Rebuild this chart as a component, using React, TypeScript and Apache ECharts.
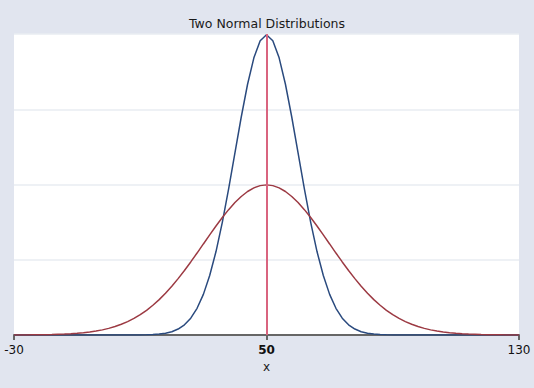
import React, { useEffect, useRef } from "react";
import * as echarts from "echarts";

const chartTitle = "Two Normal Distributions";
const xAxisName = "x";
const xTickValues = [-30, 50, 130];
const referenceX = 50;

const xValues = [
  -30, -28, -26, -24, -22, -20, -18, -16, -14, -12, -10, -8, -6, -4, -2, 0, 2, 4, 6, 8,
  10, 12, 14, 16, 18, 20, 22, 24, 26, 28, 30, 32, 34, 36, 38, 40, 42, 44, 46, 48,
  50, 52, 54, 56, 58, 60, 62, 64, 66, 68, 70, 72, 74, 76, 78, 80, 82, 84, 86, 88,
  90, 92, 94, 96, 98, 100, 102, 104, 106, 108, 110, 112, 114, 116, 118, 120, 122, 124, 126, 128, 130,
];

// narrow distribution (blue)
const blueDensity = [
  0, 0, 0, 0, 0, 0, 0, 0, 0, 0,
  0, 0, 0, 0, 0, 0, 0, 0, 0, 0,
  0.00001, 0.00003, 0.00006, 0.00012, 0.00024, 0.00044, 0.00079, 0.00136, 0.00224, 0.00355,
  0.0054, 0.0079, 0.01109, 0.01497, 0.01942, 0.0242, 0.02897, 0.03332, 0.03683, 0.0391,
  0.03989,
  0.0391, 0.03683, 0.03332, 0.02897, 0.0242, 0.01942, 0.01497, 0.01109, 0.0079, 0.0054,
  0.00355, 0.00224, 0.00136, 0.00079, 0.00044, 0.00024, 0.00012, 0.00006, 0.00003, 0.00001,
  0, 0, 0, 0, 0, 0, 0, 0, 0, 0,
  0, 0, 0, 0, 0, 0, 0, 0, 0, 0,
];

// wide distribution (red)
const redDensity = [
  0.00001, 0.00001, 0.00001, 0.00002, 0.00003, 0.00004, 0.00006, 0.00009, 0.00012, 0.00016,
  0.00022, 0.0003, 0.0004, 0.00052, 0.00068, 0.00088, 0.00112, 0.00142, 0.00177, 0.0022,
  0.0027, 0.00328, 0.00395, 0.0047, 0.00555, 0.00648, 0.00749, 0.00857, 0.00971, 0.01089,
  0.0121, 0.0133, 0.01449, 0.01561, 0.01666, 0.0176, 0.01841, 0.01907, 0.01955, 0.01985,
  0.01995,
  0.01985, 0.01955, 0.01907, 0.01841, 0.0176, 0.01666, 0.01561, 0.01449, 0.0133, 0.0121,
  0.01089, 0.00971, 0.00857, 0.00749, 0.00648, 0.00555, 0.0047, 0.00395, 0.00328, 0.0027,
  0.0022, 0.00177, 0.00142, 0.00112, 0.00088, 0.00068, 0.00052, 0.0004, 0.0003, 0.00022,
  0.00016, 0.00012, 0.00009, 0.00006, 0.00004, 0.00003, 0.00002, 0.00001, 0.00001, 0.00001,
];

const FONT = "DejaVu Sans";

export default function App() {
  const ref = useRef<HTMLDivElement>(null);

  useEffect(() => {
    if (!ref.current) return;
    const chart = echarts.init(ref.current, undefined, { renderer: "svg" });
    const blueData = xValues.map((x, i) => [x, blueDensity[i]]);
    const redData = xValues.map((x, i) => [x, redDensity[i]]);

    chart.setOption({
      animation: false,
      backgroundColor: "#e1e5ef",
      title: {
        text: chartTitle,
        left: "center",
        top: 12,
        textStyle: { fontFamily: FONT, fontSize: 12.5, fontWeight: "normal", color: "#1a1a1a" },
      },
      grid: {
        left: 14,
        right: 15,
        top: 34,
        bottom: 53,
        show: true,
        backgroundColor: "#ffffff",
        borderWidth: 0,
      },
      xAxis: {
        type: "value",
        min: -30,
        max: 130,
        name: xAxisName,
        nameLocation: "middle",
        nameGap: 22,
        nameTextStyle: { fontFamily: FONT, fontSize: 12, color: "#1a1a1a" },
        axisLine: { show: true, onZero: false, lineStyle: { color: "#666666", width: 2 } },
        axisTick: {
          show: true,
          length: 5,
          customValues: xTickValues,
          lineStyle: { color: "#666666", width: 2 },
        },
        axisLabel: {
          customValues: xTickValues,
          margin: 9,
          fontFamily: FONT,
          fontSize: 12,
          color: "#111111",
          formatter: (v: number) => (v === referenceX ? "{b|" + v + "}" : String(v)),
          rich: { b: { fontFamily: FONT, fontSize: 12, fontWeight: "bold", color: "#111111" } },
        },
        splitLine: { show: false },
      },
      yAxis: {
        type: "value",
        min: 0,
        max: 0.04,
        interval: 0.01,
        axisLine: { show: false },
        axisTick: { show: false },
        axisLabel: { show: false },
        splitLine: { show: true, lineStyle: { color: "#e8ecf2", width: 1.5 } },
      },
      series: [
        {
          type: "line",
          data: blueData,
          showSymbol: false,
          smooth: false,
          lineStyle: { color: "#2a4a7e", width: 1.5 },
          z: 2,
        },
        {
          type: "line",
          data: redData,
          showSymbol: false,
          smooth: false,
          lineStyle: { color: "#9c3a43", width: 1.5 },
          z: 3,
          markLine: {
            silent: true,
            symbol: "none",
            label: { show: false },
            lineStyle: { color: "#d9647f", width: 2, type: "solid" },
            data: [{ xAxis: referenceX }],
            z: 5,
          },
        },
      ],
    });
    return () => chart.dispose();
  }, []);

  return (
    <div
      ref={ref}
      style={{ position: "absolute", left: 0, top: 0, width: 534, height: 388 }}
    />
  );
}
